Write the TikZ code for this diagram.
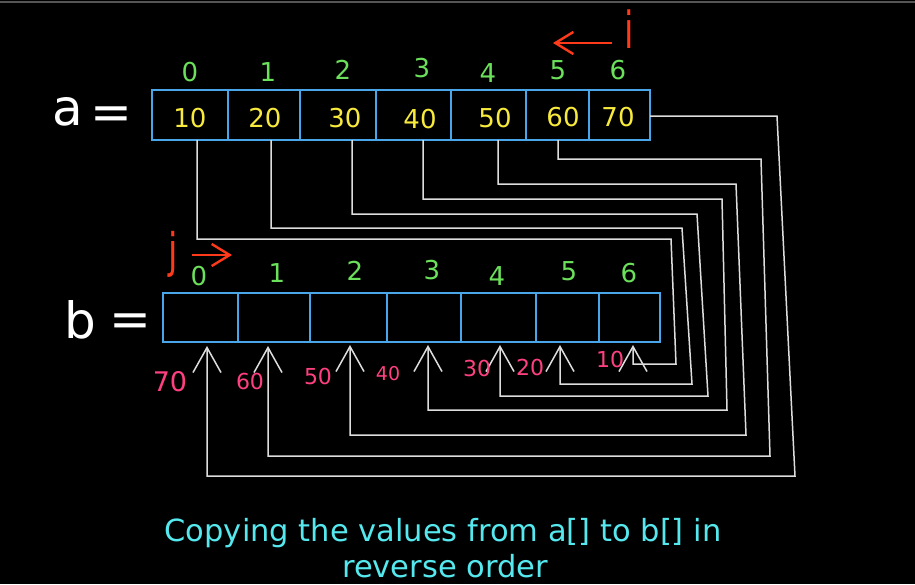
\documentclass[tikz,border=0pt]{standalone}
\usepackage{fontspec}
\setmainfont{DejaVu Sans}
\usetikzlibrary{arrows.meta,calc}
\definecolor{boxblue}{HTML}{49A6E9}
\definecolor{idxgreen}{HTML}{6BE05A}
\definecolor{valyellow}{HTML}{F7EA3C}
\definecolor{ptrred}{HTML}{FF3A1A}
\definecolor{lblpink}{HTML}{FF4080}
\definecolor{capcyan}{HTML}{55E8EE}
\definecolor{wirewhite}{HTML}{DDDDDD}
\definecolor{bordergrey}{HTML}{555555}
\tikzset{
  cellbox/.style={draw=boxblue, line width=2.6pt, inner sep=0pt, outer sep=0pt},
  idx/.style={text=idxgreen, font=\fontsize{26}{26}\selectfont, inner sep=0pt},
  val/.style={text=valyellow, font=\fontsize{26}{26}\selectfont, inner sep=0pt},
  lbl/.style={text=lblpink, font=\fontsize{22}{22}\selectfont, inner sep=0pt},
  ptr/.style={text=ptrred, font=\fontsize{34}{34}\selectfont, inner sep=0pt},
  bigw/.style={text=white, font=\fontsize{50}{50}\selectfont, inner sep=0pt},
  caption/.style={text=capcyan, font=\fontsize{30.5}{30.5}\selectfont, inner sep=0pt, anchor=base},
  wire/.style={draw=wirewhite, line width=1.5pt},
  uparrow/.style={wire, -{Straight Barb[length=25pt,width=28pt,line width=1.5pt]}},
  redarrow/.style={draw=ptrred, line width=2.4pt, -{Straight Barb[length=18pt,width=22pt]}},
}
\begin{document}
\begin{tikzpicture}[x=1pt,y=-1pt]
\fill[black] (0,0) rectangle (915,584);
\useasboundingbox (0,0) rectangle (915,584);
\draw[bordergrey, line width=1.5pt] (0,2) -- (915,2);

% ---- array a ----
\node[bigw] (aname) at (68,112) {a};
\node[bigw] (aeq) at (111,118) {=};
\node[cellbox, minimum height=50pt, minimum width=76pt] (a0) at (190,115) {};
\node[cellbox, minimum height=50pt, minimum width=72pt] (a1) at (264,115) {};
\node[cellbox, minimum height=50pt, minimum width=76pt] (a2) at (338,115) {};
\node[cellbox, minimum height=50pt, minimum width=75pt] (a3) at (413.5,115) {};
\node[cellbox, minimum height=50pt, minimum width=75pt] (a4) at (488.5,115) {};
\node[cellbox, minimum height=50pt, minimum width=63pt] (a5) at (557.5,115) {};
\node[cellbox, minimum height=50pt, minimum width=61pt] (a6) at (619.5,115) {};
\node[val] (va0) at (190,118) {10};
\node[val] (va1) at (265,118) {20};
\node[val] (va2) at (345,118) {30};
\node[val] (va3) at (420,119) {40};
\node[val] (va4) at (495,118) {50};
\node[val] (va5) at (563,117) {60};
\node[val] (va6) at (618,117) {70};
\node[idx] (ia0) at (190,72) {0};
\node[idx] (ia1) at (268,72) {1};
\node[idx] (ia2) at (343,70) {2};
\node[idx] (ia3) at (422,68) {3};
\node[idx] (ia4) at (488,73) {4};
\node[idx] (ia5) at (558,70) {5};
\node[idx] (ia6) at (618,70) {6};

% pointer i
\node[ptr] (iptr) at (629,29) {\scalebox{1}[1.5]{i}};
\coordinate (iarrS) at (612,43);
\coordinate (iarrE) at (553,43);
\draw[redarrow] (iarrS) -- (iarrE);

% ---- array b ----
\node[bigw] (bname) at (80,320) {b};
\node[bigw] (beq) at (130,325) {=};
\node[cellbox, minimum height=49pt, minimum width=75pt] (b0) at (200.5,317.5) {};
\node[cellbox, minimum height=49pt, minimum width=72pt] (b1) at (274,317.5) {};
\node[cellbox, minimum height=49pt, minimum width=77pt] (b2) at (348.5,317.5) {};
\node[cellbox, minimum height=49pt, minimum width=74pt] (b3) at (424,317.5) {};
\node[cellbox, minimum height=49pt, minimum width=75pt] (b4) at (498.5,317.5) {};
\node[cellbox, minimum height=49pt, minimum width=63pt] (b5) at (567.5,317.5) {};
\node[cellbox, minimum height=49pt, minimum width=61pt] (b6) at (629.5,317.5) {};
\node[idx] (ib0) at (199,276) {0};
\node[idx] (ib1) at (277,273) {1};
\node[idx] (ib2) at (355,271) {2};
\node[idx] (ib3) at (432,270) {3};
\node[idx] (ib4) at (497,276) {4};
\node[idx] (ib5) at (569,271) {5};
\node[idx] (ib6) at (629,273) {6};

% pointer j
\node[ptr] (jptr) at (173,254) {\scalebox{1}[1.4]{j}};
\coordinate (jarrS) at (192,255);
\coordinate (jarrE) at (232,255);
\draw[redarrow] (jarrS) -- (jarrE);

% ---- connector endpoints ----
\coordinate (s0) at ([xshift=7pt]a0.south);
\coordinate (s1) at ([xshift=7pt]a1.south);
\coordinate (s2) at ([xshift=14pt]a2.south);
\coordinate (s3) at ([xshift=9.5pt]a3.south);
\coordinate (s4) at ([xshift=9.5pt]a4.south);
\coordinate (s5) at ([xshift=0.5pt]a5.south);
\coordinate (s6) at ([yshift=-1pt]a6.east);
\coordinate (t0) at ([xshift=6.5pt,yshift=-4pt]b0.south);
\coordinate (t1) at ([xshift=-6pt,yshift=-4pt]b1.south);
\coordinate (t2) at ([xshift=1.5pt,yshift=-3pt]b2.south);
\coordinate (t3) at ([xshift=4pt,yshift=-3pt]b3.south);
\coordinate (t4) at ([xshift=1.5pt,yshift=-3pt]b4.south);
\coordinate (t5) at ([xshift=-7.5pt,yshift=-3pt]b5.south);
\coordinate (t6) at ([xshift=3.5pt,yshift=-3pt]b6.south);

\draw[uparrow] (s0) |- (671,239) -- (676,364) -| (t6);
\draw[uparrow] (s1) |- (682,228) -- (692,384) -| (t5);
\draw[uparrow] (s2) |- (697,214) -- (708,396) -| (t4);
\draw[uparrow] (s3) |- (722,199) -- (727,410) -| (t3);
\draw[uparrow] (s4) |- (736,184) -- (746,435) -| (t2);
\draw[uparrow] (s5) |- (761,159) -- (770,456) -| (t1);
\draw[uparrow] (s6) -- (777,116) -- (795,476) -| (t0);

% ---- copied values labels ----
\node[lbl, font=\fontsize{27}{27}\selectfont] (l70) at (170,382) {70};
\node[lbl] (l60) at (250,381) {60};
\node[lbl] (l50) at (318,376) {50};
\node[lbl, font=\fontsize{19}{19}\selectfont] (l40) at (388,374) {40};
\node[lbl] (l30) at (477,368) {30};
\node[lbl] (l20) at (530,367) {20};
\node[lbl] (l10) at (610,359) {10};

% ---- caption ----
\node[caption] (cap1) at (443,541) {Copying the values from a[] to b[] in};
\node[caption] (cap2) at (445,577) {reverse order};
\end{tikzpicture}
\end{document}
